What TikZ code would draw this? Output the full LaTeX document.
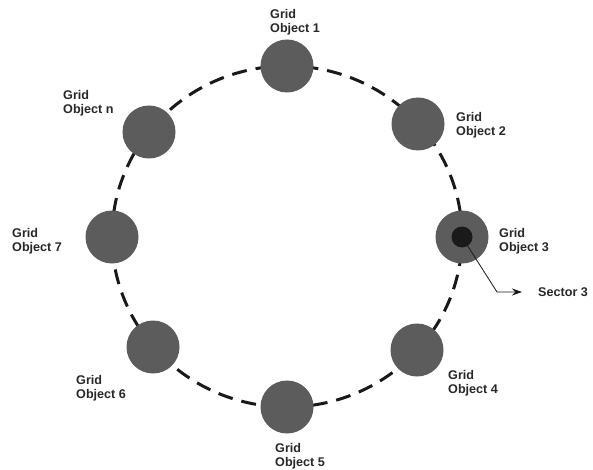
\documentclass[tikz,border=0pt]{standalone}
\usepackage{fontspec}
\setmainfont{Liberation Sans}
\usetikzlibrary{arrows.meta,positioning}
\definecolor{objgray}{RGB}{92,92,92}
\definecolor{sectgray}{RGB}{26,26,26}
\definecolor{labeltext}{RGB}{40,40,40}
\tikzset{
    gridobj/.style = {circle, fill=objgray, minimum size=53pt, inner sep=0pt},
    sectordot/.style = {circle, fill=sectgray, minimum size=21pt, inner sep=0pt},
    objlabel/.style = {inner sep=0pt, align=left, text=labeltext, font=\fontsize{12.6}{14}\selectfont\bfseries},
    ring/.style = {line width=3pt, dash pattern=on 15pt off 9pt, color=black!90}
}

\begin{document}
\begin{tikzpicture}[x=1pt, y=-1pt]
        \useasboundingbox (0,0) rectangle (593,470);
        \def\ringrx{175pt}
        \def\ringry{170.5pt}
        \coordinate (ctr) at (287,236.5);

        % dashed ring behind the objects
        \draw[ring] (ctr) ellipse [x radius=\ringrx, y radius=\ringry];

        % grid objects
        \node(obj1) [gridobj] at (287,66) {};
        \node(obj2) [gridobj] at (418,124) {};
        \node(obj3) [gridobj] at (462,237) {};
        \node(obj4) [gridobj] at (417,350) {};
        \node(obj5) [gridobj] at (287,407) {};
        \node(obj6) [gridobj] at (153,347) {};
        \node(obj7) [gridobj] at (112,237) {};
        \node(objn) [gridobj] at (149,132) {};
        \node(sect3) [sectordot] at (obj3) {};

        % labels
        \node(lbl1) [objlabel, anchor=north west] at (270,9) {Grid\\Object 1};
        \node(lbl2) [objlabel, anchor=north west] at (456,112) {Grid\\Object 2};
        \node(lbl3) [objlabel, anchor=north west] at (499,228) {Grid\\Object 3};
        \node(lbl4) [objlabel, anchor=north west] at (448,370) {Grid\\Object 4};
        \node(lbl5) [objlabel, anchor=north west] at (275,443) {Grid\\Object 5};
        \node(lbl6) [objlabel, anchor=north west] at (76,375) {Grid\\Object 6};
        \node(lbl7) [objlabel, anchor=north west] at (12,228) {Grid\\Object 7};
        \node(lbln) [objlabel, anchor=north west] at (63,90) {Grid\\Object n};

        % sector pointer
        \coordinate (bend) at (497,292);
        \coordinate (tip) at (522,292);
        \draw[-{Stealth[length=10pt, width=7pt]}, line width=0.8pt, color=black!90] (sect3.center) -- (bend) -- (tip);
        \node(sectlbl) [objlabel, anchor=west] at (538,292) {Sector 3};
\end{tikzpicture}
\end{document}
